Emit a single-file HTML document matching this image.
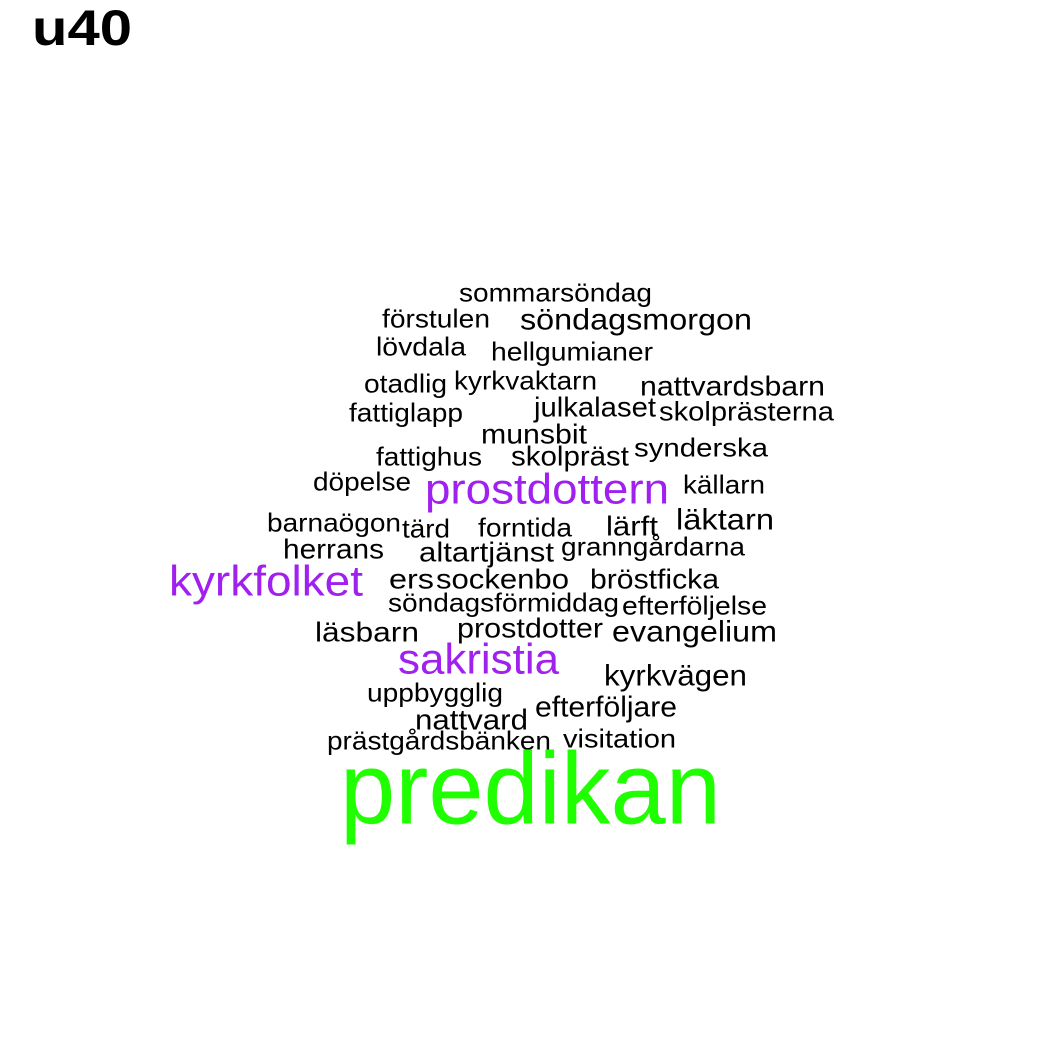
<!DOCTYPE html>
<html><head><meta charset="utf-8"><style>
html,body{margin:0;padding:0;background:#fff;}
svg{display:block;}
text{font-family:"Liberation Sans",sans-serif;fill:#000;}
.p{fill:#A020F0;}
</style></head><body>
<svg width="1050" height="1050" viewBox="0 0 1050 1050" xmlns="http://www.w3.org/2000/svg">
<rect width="1050" height="1050" fill="#fff"/>
<text x="32" y="45" font-size="50" font-weight="bold" textLength="100" lengthAdjust="spacingAndGlyphs">u40</text>
<g transform="translate(0,1.5)">
<text x="459" y="300" font-size="26" textLength="193" lengthAdjust="spacingAndGlyphs">sommarsöndag</text>
<text x="382" y="326" font-size="26" textLength="108" lengthAdjust="spacingAndGlyphs">förstulen</text>
<text x="520" y="328" font-size="30" textLength="232" lengthAdjust="spacingAndGlyphs">söndagsmorgon</text>
<text x="376" y="354" font-size="26" textLength="90" lengthAdjust="spacingAndGlyphs">lövdala</text>
<text x="491" y="359" font-size="26" textLength="162" lengthAdjust="spacingAndGlyphs">hellgumianer</text>
<text x="364" y="391" font-size="26" textLength="83" lengthAdjust="spacingAndGlyphs">otadlig</text>
<text x="454" y="388" font-size="26" textLength="143" lengthAdjust="spacingAndGlyphs">kyrkvaktarn</text>
<text x="640" y="394" font-size="28" textLength="185" lengthAdjust="spacingAndGlyphs">nattvardsbarn</text>
<text x="349" y="420" font-size="26" textLength="114" lengthAdjust="spacingAndGlyphs">fattiglapp</text>
<text x="534" y="415" font-size="28" textLength="122" lengthAdjust="spacingAndGlyphs">julkalaset</text>
<text x="659" y="419" font-size="27" textLength="175" lengthAdjust="spacingAndGlyphs">skolprästerna</text>
<text x="481" y="442" font-size="28" textLength="106" lengthAdjust="spacingAndGlyphs">munsbit</text>
<text x="376" y="464" font-size="26" textLength="106" lengthAdjust="spacingAndGlyphs">fattighus</text>
<text x="511" y="464" font-size="28" textLength="118" lengthAdjust="spacingAndGlyphs">skolpräst</text>
<text x="634" y="455" font-size="26" textLength="134" lengthAdjust="spacingAndGlyphs">synderska</text>
<text x="313" y="489" font-size="26" textLength="98" lengthAdjust="spacingAndGlyphs">döpelse</text>
<text class="p" x="425" y="502" font-size="43" textLength="244" lengthAdjust="spacingAndGlyphs">prostdottern</text>
<text x="683" y="492" font-size="26" textLength="82" lengthAdjust="spacingAndGlyphs">källarn</text>
<text x="267" y="530" font-size="26" textLength="134" lengthAdjust="spacingAndGlyphs">barnaögon</text>
<text x="402" y="536" font-size="26" textLength="48" lengthAdjust="spacingAndGlyphs">tärd</text>
<text x="478" y="535" font-size="26" textLength="94" lengthAdjust="spacingAndGlyphs">forntida</text>
<text x="606" y="534" font-size="28" textLength="52" lengthAdjust="spacingAndGlyphs">lärft</text>
<text x="676" y="528" font-size="30" textLength="98" lengthAdjust="spacingAndGlyphs">läktarn</text>
<text x="283" y="557" font-size="28" textLength="101" lengthAdjust="spacingAndGlyphs">herrans</text>
<text x="419" y="560" font-size="28" textLength="135" lengthAdjust="spacingAndGlyphs">altartjänst</text>
<text x="561" y="554" font-size="26" textLength="184" lengthAdjust="spacingAndGlyphs">granngårdarna</text>
<text class="p" x="169" y="594" font-size="43" textLength="194" lengthAdjust="spacingAndGlyphs">kyrkfolket</text>
<text x="389" y="587" font-size="28" textLength="45" lengthAdjust="spacingAndGlyphs">ers</text>
<text x="436" y="587" font-size="28" textLength="133" lengthAdjust="spacingAndGlyphs">sockenbo</text>
<text x="590" y="587" font-size="28" textLength="129" lengthAdjust="spacingAndGlyphs">bröstficka</text>
<text x="388" y="610" font-size="26" textLength="231" lengthAdjust="spacingAndGlyphs">söndagsförmiddag</text>
<text x="622" y="613" font-size="26" textLength="145" lengthAdjust="spacingAndGlyphs">efterföljelse</text>
<text x="315" y="640" font-size="28" textLength="104" lengthAdjust="spacingAndGlyphs">läsbarn</text>
<text x="457" y="636" font-size="28" textLength="146" lengthAdjust="spacingAndGlyphs">prostdotter</text>
<text x="612" y="640" font-size="30" textLength="165" lengthAdjust="spacingAndGlyphs">evangelium</text>
<text class="p" x="398" y="672" font-size="43" textLength="161" lengthAdjust="spacingAndGlyphs">sakristia</text>
<text x="604" y="684" font-size="30" textLength="143" lengthAdjust="spacingAndGlyphs">kyrkvägen</text>
<text x="367" y="700" font-size="26" textLength="136" lengthAdjust="spacingAndGlyphs">uppbygglig</text>
<text x="535" y="715" font-size="29" textLength="142" lengthAdjust="spacingAndGlyphs">efterföljare</text>
<text x="415" y="728" font-size="29" textLength="113" lengthAdjust="spacingAndGlyphs">nattvard</text>
<text x="327" y="748" font-size="26" textLength="224" lengthAdjust="spacingAndGlyphs">prästgårdsbänken</text>
<text x="563" y="746" font-size="26" textLength="113" lengthAdjust="spacingAndGlyphs">visitation</text>
<text x="340" y="822" font-size="102" textLength="381" lengthAdjust="spacingAndGlyphs" style="fill:#1FFF00">predikan</text>
</g>
</svg>
</body></html>
